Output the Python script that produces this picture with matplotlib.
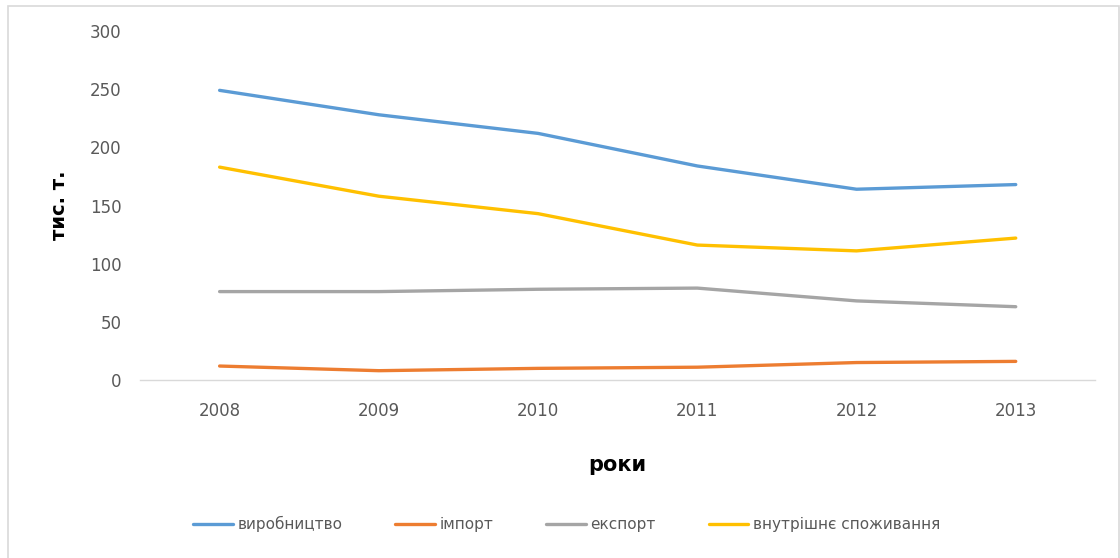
import numpy as np
import matplotlib
matplotlib.use("Agg")
import matplotlib.pyplot as plt
from matplotlib.patches import Rectangle

# data (тис. т.)
years = ['2008', '2009', '2010', '2011', '2012', '2013']
vyrobnytstvo = [249, 228, 212, 184, 164, 168]
import_ = [12, 8, 10, 11, 15, 16]
eksport = [76, 76, 78, 79, 68, 63]
spozhyvannia = [183, 158, 143, 116, 111, 122]

names = ['виробництво', 'імпорт', 'експорт', 'внутрішнє споживання']
colors = ['#5B9BD5', '#ED7D31', '#A5A5A5', '#FFC000']

plt.rcParams['font.family'] = ['DejaVu Sans']

fig = plt.figure(figsize=(11.2, 5.58), dpi=100)
ax = fig.add_axes([0.125, 0.319, 0.853, 0.6254])

x = np.arange(len(years))
for vals, name, c in zip([vyrobnytstvo, import_, eksport, spozhyvannia], names, colors):
    ax.plot(x, vals, color=c, lw=2.4, label=name, solid_capstyle='round')

ax.set_xlim(-0.5, len(years) - 0.5)
ax.set_ylim(0, 300)
ax.set_yticks(range(0, 301, 50))
ax.set_xticks(x)
ax.set_xticklabels(years)

for s in ['top', 'right', 'left']:
    ax.spines[s].set_visible(False)
ax.spines['bottom'].set_color('#D9D9D9')
ax.spines['bottom'].set_linewidth(1)
ax.tick_params(axis='both', length=0, labelsize=12, labelcolor='#595959')
ax.tick_params(axis='y', pad=13.5)
ax.tick_params(axis='x', pad=15.5)

fig.text(0.053, 0.632, 'тис. т.', rotation=90, ha='center', va='center',
         fontsize=14, fontweight='bold')
fig.text(0.551, 0.167, 'роки', ha='center', va='center',
         fontsize=15, fontweight='bold')

leg = fig.legend(loc='center', bbox_to_anchor=(0.506, 0.061), ncol=4,
                 frameon=False, fontsize=11, handlelength=2.6,
                 columnspacing=3.45, handletextpad=0.3)
for t in leg.get_texts():
    t.set_color('#595959')

# outer chart border
fig.patches.append(Rectangle((8 / 1120, -0.05), 1111 / 1120, 1.05 - 6 / 558,
                             transform=fig.transFigure, fill=False,
                             edgecolor='#D9D9D9', lw=1.2))

fig.savefig('out.png', dpi=100, facecolor='white')
